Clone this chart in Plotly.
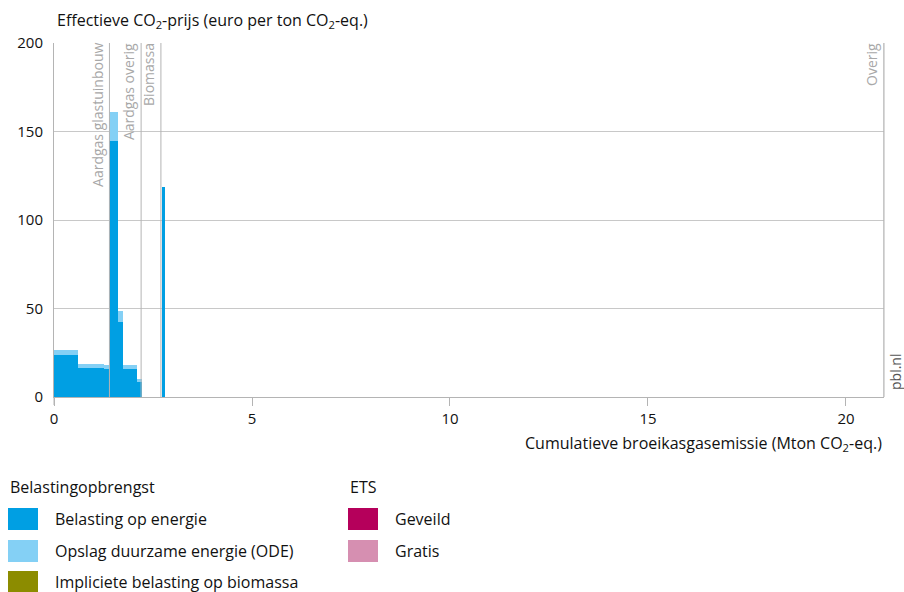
import numpy as np
import plotly.graph_objects as go

# ---- data ----
segment_emission = [0.60, 0.66, 0.14, 0.22, 0.11, 0.37, 0.11, 0.51, 0.08, 18.16]
belasting_energie = [23.5, 16.5, 15.8, 144.6, 42.5, 15.8, 8.6, 0, 118.5, 0]
opslag_ode = [3.0, 2.1, 2.2, 16.4, 6.3, 2.2, 1.6, 0, 0, 0]
biomassa_impliciet = [0, 0, 0, 0, 0, 0, 0, 0, 0, 0]
ets_geveild = [0, 0, 0, 0, 0, 0, 0, 0, 0, 0]
ets_gratis = [0, 0, 0, 0, 0, 0, 0, 0, 0, 0]

category_bounds = [1.40, 2.20, 2.70, 20.96]
category_labels = ["Aardgas glastuinbouw", "Aardgas overig", "Biomassa", "Overig"]

y_ticks = [0, 50, 100, 150, 200]
x_ticks = [0, 5, 10, 15, 20]

legend_left_title = "Belastingopbrengst"
legend_left = ["Belasting op energie", "Opslag duurzame energie (ODE)", "Impliciete belasting op biomassa"]
legend_left_colors = ["#009fe3", "#84d0f5", "#8c8c00"]
legend_right_title = "ETS"
legend_right = ["Geveild", "Gratis"]
legend_right_colors = ["#b5005b", "#d68fb1"]

FONT = "Open Sans"
TXT = 16

widths = np.array(segment_emission)
ends = np.cumsum(widths)
starts = ends - widths
centers = starts + widths / 2

fig = go.Figure()
series = [
    (belasting_energie, legend_left_colors[0]),
    (opslag_ode, legend_left_colors[1]),
    (biomassa_impliciet, legend_left_colors[2]),
    (ets_geveild, legend_right_colors[0]),
    (ets_gratis, legend_right_colors[1]),
]
for vals, col in series:
    fig.add_trace(go.Bar(x=centers, y=vals, width=widths, marker=dict(color=col, line=dict(width=0)),
                         showlegend=False, hoverinfo="skip"))

# plot area pixels
L, R, T, B = 54, 884, 43, 397
W, H = R - L, B - T
def px(xp):
    return (xp - L) / W
def py(yp):
    return (B - yp) / H

shapes = []
annotations = []
for xb, lab in zip(category_bounds, category_labels):
    shapes.append(dict(type="line", xref="x", yref="paper", x0=xb, x1=xb, y0=0, y1=1,
                       line=dict(color="#b4b4b4", width=1)))
    annotations.append(dict(x=xb, y=1, xref="x", yref="paper", text=lab, textangle=-90,
                            xanchor="right", yanchor="top", showarrow=False, xshift=-1, yshift=2,
                            font=dict(family=FONT, size=14, color="#a8a8a8")))

annotations.append(dict(x=px(55), y=py(20), xref="paper", yref="paper",
                        text="Effectieve CO<sub>2</sub>-prijs (euro per ton CO<sub>2</sub>-eq.)",
                        xanchor="left", yanchor="middle", showarrow=False,
                        font=dict(family=FONT, size=TXT, color="#111")))
annotations.append(dict(x=px(884), y=py(443), xref="paper", yref="paper",
                        text="Cumulatieve broeikasgasemissie (Mton CO<sub>2</sub>-eq.)",
                        xanchor="right", yanchor="middle", showarrow=False,
                        font=dict(family=FONT, size=TXT, color="#111")))
annotations.append(dict(x=px(895), y=py(372), xref="paper", yref="paper", text="pbl.nl",
                        textangle=-90, xanchor="center", yanchor="middle", showarrow=False,
                        font=dict(family=FONT, size=14, color="#555")))

# legend
annotations.append(dict(x=px(8), y=py(487), xref="paper", yref="paper", text=legend_left_title,
                        xanchor="left", yanchor="middle", showarrow=False,
                        font=dict(family=FONT, size=TXT, color="#111")))
annotations.append(dict(x=px(348), y=py(487), xref="paper", yref="paper", text=legend_right_title,
                        xanchor="left", yanchor="middle", showarrow=False,
                        font=dict(family=FONT, size=TXT, color="#111")))
row_y = [519, 551, 582]
for i, (lab, col) in enumerate(zip(legend_left, legend_left_colors)):
    yc = row_y[i]
    shapes.append(dict(type="rect", xref="paper", yref="paper", x0=px(8), x1=px(38),
                       y0=py(yc + 11), y1=py(yc - 11), fillcolor=col, line=dict(width=0)))
    annotations.append(dict(x=px(53), y=py(yc), xref="paper", yref="paper", text=lab,
                            xanchor="left", yanchor="middle", showarrow=False,
                            font=dict(family=FONT, size=TXT, color="#111")))
for i, (lab, col) in enumerate(zip(legend_right, legend_right_colors)):
    yc = row_y[i]
    shapes.append(dict(type="rect", xref="paper", yref="paper", x0=px(348), x1=px(378),
                       y0=py(yc + 11), y1=py(yc - 11), fillcolor=col, line=dict(width=0)))
    annotations.append(dict(x=px(393), y=py(yc), xref="paper", yref="paper", text=lab,
                            xanchor="left", yanchor="middle", showarrow=False,
                            font=dict(family=FONT, size=TXT, color="#111")))

fig.update_layout(
    width=904, height=592,
    margin=dict(l=L, r=904 - R, t=T, b=592 - B),
    barmode="stack", bargap=0,
    plot_bgcolor="white", paper_bgcolor="white",
    shapes=shapes, annotations=annotations,
    font=dict(family=FONT, size=TXT, color="#111"),
    xaxis=dict(range=[0, 20.96], tickvals=x_ticks, showgrid=False, zeroline=False,
               showline=True, linecolor="#b4b4b4", mirror=False,
               ticks="outside", ticklen=8, tickcolor="#b4b4b4",
               tickfont=dict(family=FONT, size=15, color="#111")),
    yaxis=dict(range=[0, 200], tickvals=y_ticks, showgrid=True, gridcolor="#c8c8c8",
               zeroline=False, showline=True, linecolor="#b4b4b4", mirror=False,
               ticks="", ticklabelstandoff=7,
               tickfont=dict(family=FONT, size=15, color="#111")),
)
fig.add_shape(type="line", xref="paper", yref="paper", x0=1, x1=1, y0=0, y1=1,
              line=dict(color="#b4b4b4", width=1))
fig.add_shape(type="line", xref="paper", yref="paper", x0=0, x1=0, y0=0, y1=-8 / H,
              line=dict(color="#b4b4b4", width=1))

fig.write_html("out.html", config={"displayModeBar": False},
               post_script="document.body.style.margin='0';document.body.style.overflow='hidden';")
